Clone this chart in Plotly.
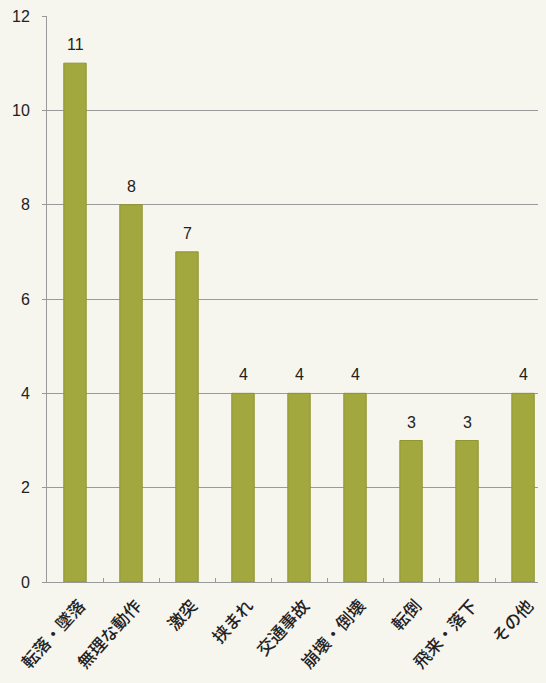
import plotly.graph_objects as go

categories = ["転落・墜落", "無理な動作", "激突", "挟まれ", "交通事故", "崩壊・倒壊", "転倒", "飛来・落下", "その他"]
values = [11, 8, 7, 4, 4, 4, 3, 3, 4]
y_ticks = [0, 2, 4, 6, 8, 10, 12]

bg = "#f6f5ee"
bar_color = "#a2a73e"

fig = go.Figure()
fig.add_trace(go.Bar(
    x=categories, y=values,
    marker=dict(color=bar_color, line=dict(color="#8f9530", width=1)),
))
for c, v in zip(categories, values):
    fig.add_annotation(
        x=c, y=v, text=str(v), showarrow=False, yanchor="bottom", yshift=8,
        font=dict(family="Liberation Sans, Arial, sans-serif", size=16, color="#222"),
    )

fig.update_layout(
    width=538, height=675,
    margin=dict(l=39, r=0, t=8, b=101),
    paper_bgcolor=bg, plot_bgcolor=bg,
    bargap=0.6,
    showlegend=False,
    font=dict(family="Noto Sans CJK JP, sans-serif", color="#222"),
)
fig.update_xaxes(
    range=[-0.5, 8.41], automargin=False,
    tickangle=-48,
    tickfont=dict(family="Noto Sans CJK JP", size=17, color="#222", weight=500),
    showline=True, linecolor="#999", linewidth=1,
    ticks="inside", ticklen=4, tickcolor="#999", tickson="boundaries",
    ticklabelshift=5, ticklabelstandoff=6,
    showgrid=False,
)
fig.update_yaxes(
    range=[0, 12], tickvals=y_ticks, automargin=False,
    tickfont=dict(family="Liberation Sans, Arial, sans-serif", size=16, color="#222"),
    showline=True, linecolor="#999", linewidth=1,
    ticks="outside", ticklen=4, tickcolor="#999",
    ticklabelstandoff=9, ticklabeloverflow="allow",
    showgrid=True, gridcolor="#9a9a9a", gridwidth=1,
    zeroline=False,
)

fig.write_html("out.html", post_script="document.body.style.background='" + bg + "';")
